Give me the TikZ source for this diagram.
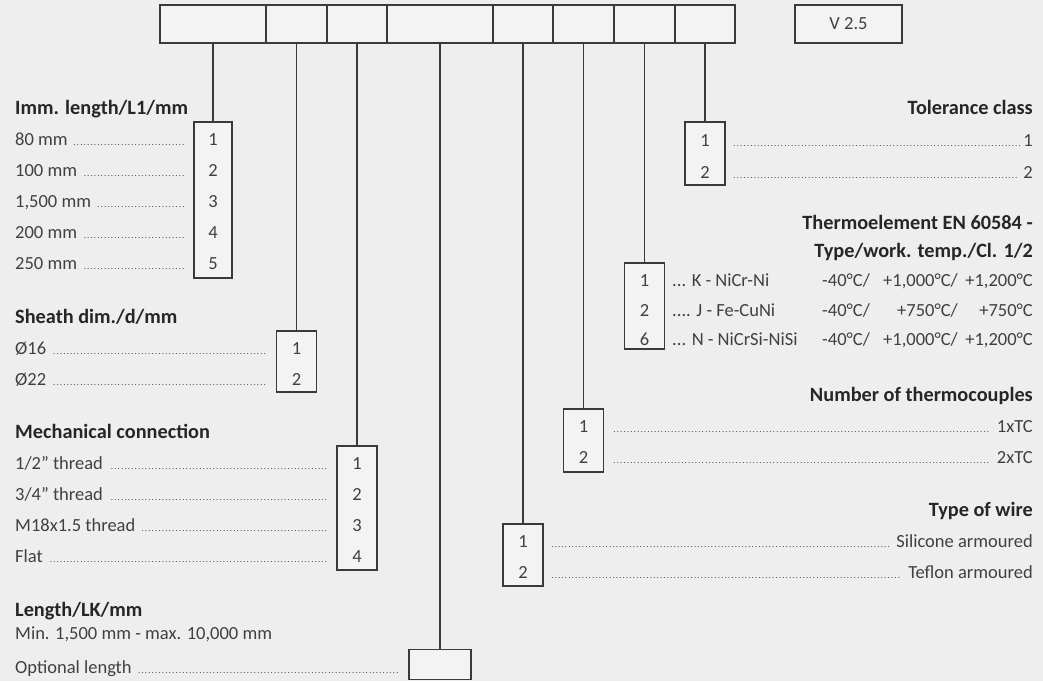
\documentclass[tikz,border=0pt]{standalone}
\usepackage{fontspec}
\setmainfont{Carlito}
\definecolor{bggray}{HTML}{EEEEEE}
\definecolor{boxfill}{HTML}{F3F3F3}
\definecolor{linegray}{HTML}{3A3A3A}
\definecolor{textgray}{HTML}{404040}
\definecolor{headgray}{HTML}{262626}
\newcommand\leaderdots{\leaders\hbox to 3.4pt{\hss\fontsize{9}{9}\selectfont.\hss}\hfill}
\newcommand\leftrow[2]{\makebox[#1][l]{#2\ \leaderdots}}
\newcommand\rightrow[2]{\makebox[#1][r]{\leaderdots\ #2}}
\tikzset{
  cell/.style={draw=linegray, line width=1.2pt, fill=boxfill, minimum height=38pt, inner sep=0pt},
  optbox/.style={draw=linegray, line width=1.2pt, fill=boxfill, inner sep=0pt},
  head/.style={font=\bfseries\fontsize{20.3}{22}\selectfont, text=headgray, inner sep=0pt},
  item/.style={font=\fontsize{18.5}{20}\selectfont, text=textgray, inner sep=0pt},
  wire/.style={draw=linegray, line width=1.2pt}
}
\begin{document}
\begin{tikzpicture}[x=1pt,y=-1pt]
\fill[bggray] (0,0) rectangle (1043,681); % background
\useasboundingbox (0,0) rectangle (1043,681);

% code bar
\node[cell, minimum width=106pt] (cell1) at (213,24) {};
\node[cell, minimum width=61pt] (cell2) at (296.5,24) {};
\node[cell, minimum width=60pt] (cell3) at (357,24) {};
\node[cell, minimum width=106pt] (cell4) at (440,24) {};
\node[cell, minimum width=60pt] (cell5) at (523,24) {};
\node[cell, minimum width=61pt] (cell6) at (583.5,24) {};
\node[cell, minimum width=61pt] (cell7) at (644.5,24) {};
\node[cell, minimum width=60pt] (cell8) at (705,24) {};
\node[cell, minimum width=107pt] (version) at (848.5,24) {};
\node[item] (vertext) at (848.5,24) {V 2.5};

% option boxes
\node[optbox, minimum width=38pt, minimum height=156pt] (optL1) at (213,200) {};
\node[optbox, minimum width=40pt, minimum height=61pt] (optD) at (296.5,361.5) {};
\node[optbox, minimum width=40pt, minimum height=124pt] (optMech) at (357,508) {};
\node[optbox, minimum width=62pt, minimum height=30pt] (optLK) at (440,664.5) {};
\node[optbox, minimum width=40pt, minimum height=62pt] (optWire) at (523,555) {};
\node[optbox, minimum width=40pt, minimum height=63pt] (optNum) at (583.5,440.5) {};
\node[optbox, minimum width=40pt, minimum height=86pt] (optTE) at (644.5,306) {};
\node[optbox, minimum width=40pt, minimum height=63pt] (optTol) at (705,153.5) {};

% connectors
\draw[wire] (cell1.south) -- (optL1.north);
\draw[wire] (cell2.south) -- (optD.north);
\draw[wire] (cell3.south) -- (optMech.north);
\draw[wire] (cell4.south) -- (optLK.north);
\draw[wire] (cell5.south) -- (optWire.north);
\draw[wire] (cell6.south) -- (optNum.north);
\draw[wire] (cell7.south) -- (optTE.north);
\draw[wire] (cell8.south) -- (optTol.north);

% immersion length
\node[head, anchor=base west] (headL1) at (15,114.5) {Imm. length/L1/mm};
\node[item, anchor=base west] (rowL1a) at (15,145.5) {\leftrow{170pt}{80 mm}};
\node[item, anchor=base west] (rowL1b) at (15,176.5) {\leftrow{170pt}{100 mm}};
\node[item, anchor=base west] (rowL1c) at (15,207.5) {\leftrow{170pt}{1,500 mm}};
\node[item, anchor=base west] (rowL1d) at (15,238.5) {\leftrow{170pt}{200 mm}};
\node[item, anchor=base west] (rowL1e) at (15,269.5) {\leftrow{170pt}{250 mm}};
\node[item, anchor=base] (numL1a) at (213,145.5) {1};
\node[item, anchor=base] (numL1b) at (213,176.5) {2};
\node[item, anchor=base] (numL1c) at (213,207.5) {3};
\node[item, anchor=base] (numL1d) at (213,238.5) {4};
\node[item, anchor=base] (numL1e) at (213,269.5) {5};

% sheath
\node[head, anchor=base west] (headD) at (15,323.5) {Sheath dim./d/mm};
\node[item, anchor=base west] (rowDa) at (15,354.5) {\leftrow{252pt}{Ø16}};
\node[item, anchor=base west] (rowDb) at (15,385.5) {\leftrow{252pt}{Ø22}};
\node[item, anchor=base] (numDa) at (296.5,354.5) {1};
\node[item, anchor=base] (numDb) at (296.5,385.5) {2};

% mechanical connection
\node[head, anchor=base west] (headMech) at (15,438.5) {Mechanical connection};
\node[item, anchor=base west] (rowMecha) at (15,469.5) {\leftrow{313pt}{1/2\symbol{"22} thread}};
\node[item, anchor=base west] (rowMechb) at (15,500.5) {\leftrow{313pt}{3/4\symbol{"22} thread}};
\node[item, anchor=base west] (rowMechc) at (15,531.5) {\leftrow{313pt}{M18x1.5 thread}};
\node[item, anchor=base west] (rowMechd) at (15,562.5) {\leftrow{313pt}{Flat}};
\node[item, anchor=base] (numMecha) at (357,469.5) {1};
\node[item, anchor=base] (numMechb) at (357,500.5) {2};
\node[item, anchor=base] (numMechc) at (357,531.5) {3};
\node[item, anchor=base] (numMechd) at (357,562.5) {4};

% length LK
\node[head, anchor=base west] (headLK) at (15,616.5) {Length/LK/mm};
\node[item, anchor=base west] (rowLKa) at (15,639.5) {Min. 1,500 mm - max. 10,000 mm};
\node[item, anchor=base west] (rowLKb) at (15,673.5) {\leftrow{385pt}{Optional length}};

% tolerance class
\node[head, anchor=base east] (headTol) at (1033,114.5) {Tolerance class};
\node[item, anchor=base east] (rowTola) at (1033,146.5) {\makebox[300pt][r]{\leaderdots 1}};
\node[item, anchor=base east] (rowTolb) at (1033,178.5) {\rightrow{300pt}{2}};
\node[item, anchor=base] (numTola) at (705,146.5) {1};
\node[item, anchor=base] (numTolb) at (705,178.5) {2};

% thermoelement
\node[head, anchor=base east] (headTEa) at (1033,229.5) {Thermoelement EN 60584 -};
\node[head, anchor=base east] (headTEb) at (1033,257.5) {Type/work. temp./Cl. 1/2};
\node[item, anchor=base] (numTEa) at (644.5,286.5) {1};
\node[item, anchor=base] (numTEb) at (644.5,316.5) {2};
\node[item, anchor=base] (numTEc) at (644.5,345.5) {6};
\node[item, anchor=base west] (typeK) at (672,286.5) {... K - NiCr-Ni};
\node[item, anchor=base west] (typeJ) at (672,316.5) {.... J - Fe-CuNi};
\node[item, anchor=base west] (typeN) at (672,345.5) {... N - NiCrSi-NiSi};
\node[item, anchor=base west] (lowK) at (822,286.5) {-40°C/};
\node[item, anchor=base west] (lowJ) at (822,316.5) {-40°C/};
\node[item, anchor=base west] (lowN) at (822,345.5) {-40°C/};
\node[item, anchor=base east] (workK) at (958,286.5) {+1,000°C/};
\node[item, anchor=base east] (workJ) at (958,316.5) {+750°C/};
\node[item, anchor=base east] (workN) at (958,345.5) {+1,000°C/};
\node[item, anchor=base east] (maxK) at (1033,286.5) {+1,200°C};
\node[item, anchor=base east] (maxJ) at (1033,316.5) {+750°C};
\node[item, anchor=base east] (maxN) at (1033,345.5) {+1,200°C};

% number of thermocouples
\node[head, anchor=base east] (headNum) at (1033,401.5) {Number of thermocouples};
\node[item, anchor=base east] (rowNuma) at (1033,432.5) {\rightrow{420pt}{1xTC}};
\node[item, anchor=base east] (rowNumb) at (1033,463.5) {\rightrow{420pt}{2xTC}};
\node[item, anchor=base] (numNuma) at (583.5,432.5) {1};
\node[item, anchor=base] (numNumb) at (583.5,463.5) {2};

% type of wire
\node[head, anchor=base east] (headWire) at (1033,516.5) {Type of wire};
\node[item, anchor=base east] (rowWirea) at (1033,547.5) {\rightrow{482pt}{Silicone armoured}};
\node[item, anchor=base east] (rowWireb) at (1033,578.5) {\rightrow{482pt}{Teflon armoured}};
\node[item, anchor=base] (numWirea) at (523,547.5) {1};
\node[item, anchor=base] (numWireb) at (523,578.5) {2};

\end{tikzpicture}
\end{document}
